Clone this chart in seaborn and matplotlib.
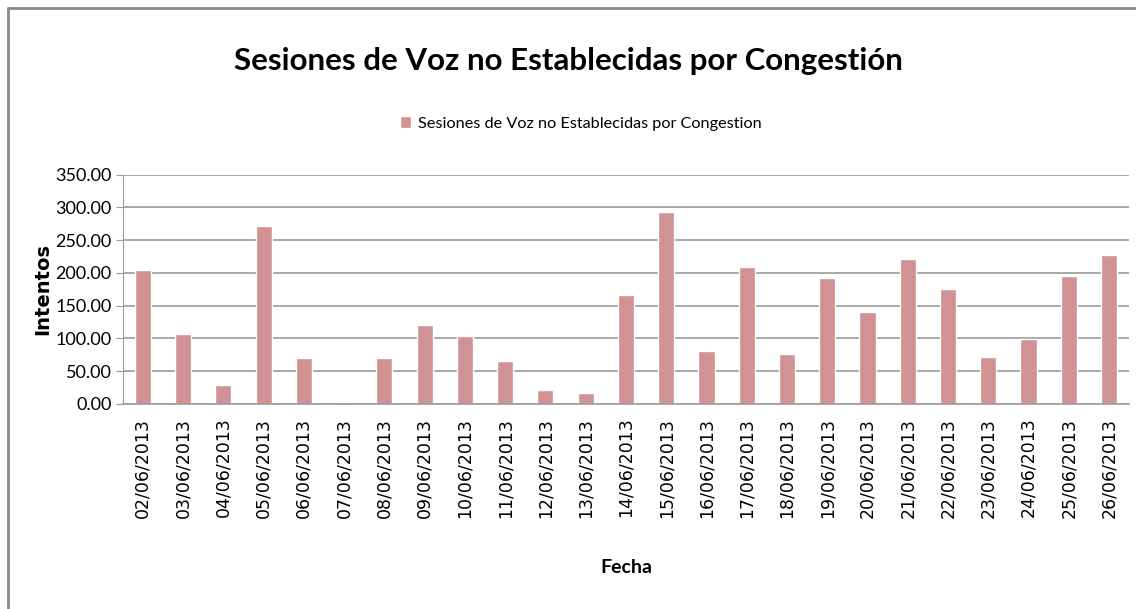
import matplotlib
matplotlib.use("Agg")
import matplotlib.pyplot as plt
import pandas as pd
import seaborn as sns

# Data
fechas = ["02/06/2013", "03/06/2013", "04/06/2013", "05/06/2013", "06/06/2013",
          "07/06/2013", "08/06/2013", "09/06/2013", "10/06/2013", "11/06/2013",
          "12/06/2013", "13/06/2013", "14/06/2013", "15/06/2013", "16/06/2013",
          "17/06/2013", "18/06/2013", "19/06/2013", "20/06/2013", "21/06/2013",
          "22/06/2013", "23/06/2013", "24/06/2013", "25/06/2013", "26/06/2013"]
intentos = [205, 107, 28, 272, 70,
            0, 70, 120, 103, 65,
            21, 17, 166, 293, 80,
            209, 76, 192, 140, 221,
            175, 72, 99, 196, 228]
serie = "Sesiones de Voz no Establecidas por Congestion"

df = pd.DataFrame({"fecha": fechas, "valor": intentos})

sns.set_style("white")
plt.rcParams["font.family"] = ["Lato", "DejaVu Sans"]
plt.rcParams["text.color"] = "black"
plt.rcParams["axes.labelcolor"] = "black"
plt.rcParams["xtick.color"] = "black"
plt.rcParams["ytick.color"] = "black"

fig = plt.figure(figsize=(11.36, 6.09), dpi=100)
ax = fig.add_axes([0.108, 0.337, 0.886, 0.376])

bar_color = "#D09292"
sns.barplot(data=df, x="fecha", y="valor", color=bar_color, width=0.4,
            saturation=1, ax=ax, label=serie)
handles, labels = ax.get_legend_handles_labels()
if ax.get_legend() is not None:
    ax.get_legend().remove()

ax.set_ylim(0, 350)
ax.set_xlim(-0.5, len(fechas) - 0.5)
ax.set_yticks(range(0, 351, 50))
ax.set_yticklabels([f"{v:.2f}" for v in range(0, 351, 50)], fontsize=13)
ax.yaxis.grid(True, color="#9a9a9a", linewidth=1.2)
ax.set_axisbelow(True)
ax.tick_params(axis="y", length=5, color="#9a9a9a", pad=3, left=True,
               labelcolor="black")
ax.tick_params(axis="x", length=0, pad=10, labelcolor="black")
for lbl in ax.get_xticklabels():
    lbl.set_rotation(90)
    lbl.set_fontfamily("DejaVu Sans")
    lbl.set_fontsize(12.5)

for side in ["top", "right"]:
    ax.spines[side].set_visible(False)
ax.spines["left"].set_color("#9a9a9a")
ax.spines["bottom"].set_color("#9a9a9a")
ax.spines["bottom"].set_linewidth(1.2)

ax.set_xlabel("Fecha", fontsize=14, fontweight="bold", labelpad=30)
ax.set_ylabel("Intentos", fontsize=14, fontweight="bold", family="DejaVu Sans",
              labelpad=2)

fig.text(0.5, 0.9, "Sesiones de Voz no Establecidas por Congestión",
         ha="center", va="center", fontsize=22.5, fontweight="bold")
fig.legend(handles, labels, loc="center", bbox_to_anchor=(0.511, 0.797),
           frameon=False, fontsize=11.7, handlelength=0.7, handleheight=0.7,
           handletextpad=0.4)

# outer chart border (top and left visible in the reference)
fig.add_artist(plt.Line2D([0.007, 0.007], [0, 0.987], color="#888888",
                          linewidth=2, transform=fig.transFigure))
fig.add_artist(plt.Line2D([0.007, 1.0], [0.987, 0.987], color="#888888",
                          linewidth=2, transform=fig.transFigure))

fig.savefig("out.png", dpi=100)
